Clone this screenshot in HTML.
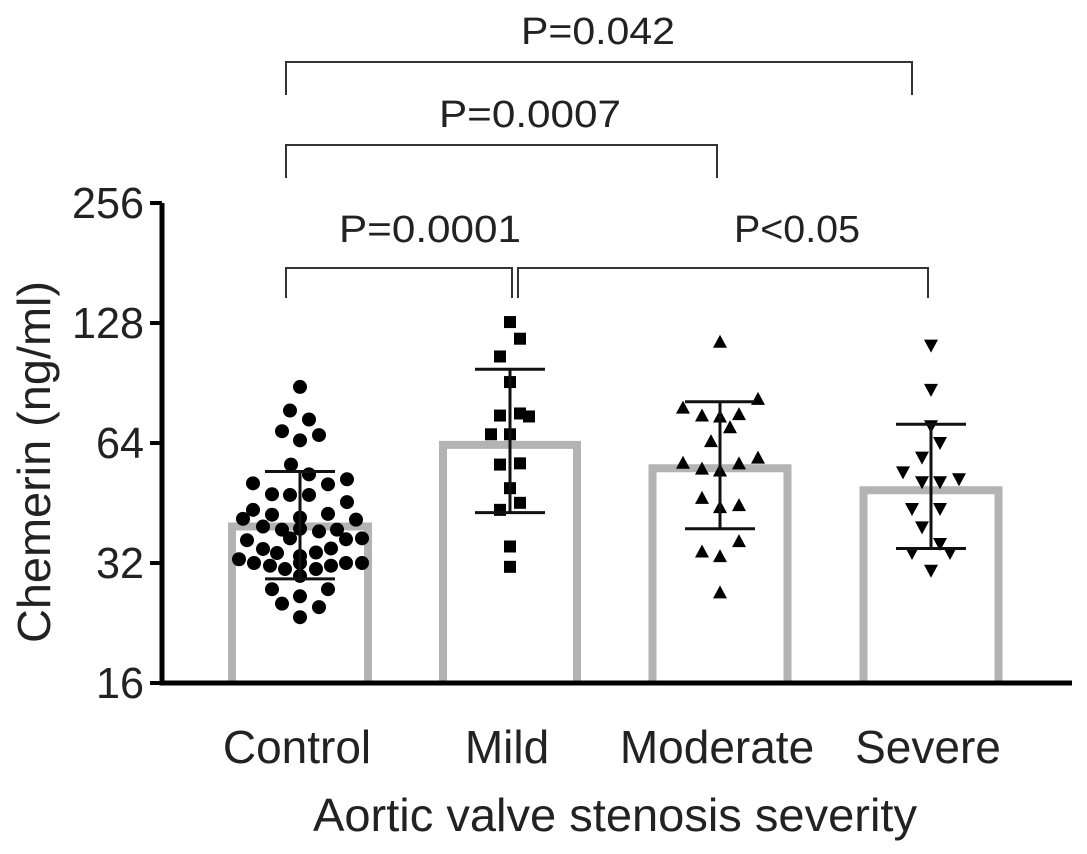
<!DOCTYPE html>
<html><head><meta charset="utf-8"><style>
html,body{margin:0;padding:0;background:#fff;}
svg text{font-family:"Liberation Sans",sans-serif;fill:#222;}
</style></head><body>
<svg id="chart" width="1087" height="849" viewBox="0 0 1087 849" xmlns="http://www.w3.org/2000/svg"></svg>
<script>
const categories=["Control","Mild","Moderate","Severe"];
const means=[39.5,63.3,55.3,48.7];
const errTop=[54.3,98,81.2,71.3];
const errBottom=[29.2,42.8,39.0,34.8];
const controlValues=[88.5,77.2,73.3,68.5,67,65,56.5,53.4,50.7,50.4,51.9,47.6,47.4,47.4,45.5,43.5,41.3,42.3,41.6,42.5,41.1,39.5,38.8,39.0,38.4,38.8,36.5,36.9,36.7,36.9,34.7,33.9,33.3,34.0,34.8,32.7,32,31.5,30.9,32,30.9,31.5,32,32,29.7,27.5,27.5,26.4,25.3,24.8,23.4];
const controlJitter=[0,-10,9,-18,19,0,-9,9,-47,28,47,-28,-10,9,47,-47,-57,-28,0,28,56,-37,-18,0,19,37,-53,-10,46,62,-37,-23,0,16,31,-61,-46,-30,-15,0,16,31,46,62,0,-28,28,0,-18,19,0];
const mildValues=[128.7,116.9,105.5,91,75,75.9,74.6,67.3,67.3,56.5,56.9,49.3,45.3,43.5,35.2,31.3];
const mildJitter=[0,10,-10,0,-10,10,19,-19,0,-10,10,0,10,-10,0,0];
const moderateValues=[114.9,78.5,75,74.6,75.6,82.6,70.1,64.7,57.1,55.2,54.6,56.9,58.8,46.6,44.2,44.7,36.3,34.2,33.3,27];
const moderateJitter=[0,-37,-18,0,19,38,10,-9,-37,-18,0,19,38,-18,0,19,19,-18,0,0];
const severeValues=[112.3,87,70.5,64,58.8,54,51,51,51.9,43.7,43.7,39.3,33.9,35.7,33.9,30.6];
const severeJitter=[0,0,0,9,-9,-28,-9,9,28,-19,9,-9,-19,9,19,0];
const yTicks=[16,32,64,128,256];
const NS="http://www.w3.org/2000/svg";
const svg=document.getElementById('chart');
const X0=162,Y16=683,PX=120;
function yScale(v){return Y16-Math.log2(v/16)*PX;}
const centers=[300,510,720,931];
const barW=[136,134,135,135];
function xScale(i){return centers[i];}
function mk(tag,attrs,parent){const e=document.createElementNS(NS,tag);for(const k in attrs)e.setAttribute(k,attrs[k]);(parent||svg).appendChild(e);return e;}
function txt(s,attrs){const t=mk('text',attrs);t.textContent=s;return t;}

categories.forEach((c,i)=>{
 const top=yScale(means[i]);
 const r=mk('path',{d:`M${xScale(i)-barW[i]/2},${Y16} V${top} H${xScale(i)+barW[i]/2} V${Y16}`,fill:'none',stroke:'#b3b3b3','stroke-width':8});
 
 
});
const groups=[[controlValues,controlJitter,'circle'],[mildValues,mildJitter,'square'],[moderateValues,moderateJitter,'tri'],[severeValues,severeJitter,'tridown']];
groups.forEach((g,i)=>{
 const [vals,jit,shape]=g;
 vals.forEach((v,j)=>{
  const x=xScale(i)+(jit[j]||0),y=yScale(v);let e;
  if(shape==='circle')e=mk('circle',{cx:x,cy:y,r:7,fill:'#000'});
  else if(shape==='square')e=mk('rect',{x:x-6,y:y-6,width:12,height:12,fill:'#000'});
  else if(shape==='tri')e=mk('polygon',{points:`${x},${y-7} ${x-7},${y+6} ${x+7},${y+6}`,fill:'#000'});
  else e=mk('polygon',{points:`${x},${y+7} ${x-7},${y-6} ${x+7},${y-6}`,fill:'#000'});
  
  
 });
});
categories.forEach((c,i)=>{
 const g=mk('g',{stroke:'#111','stroke-width':3});
 
 
 const x=xScale(i),t=yScale(errTop[i]),b=yScale(errBottom[i]);
 mk('line',{x1:x,x2:x,y1:t,y2:b},g);
 mk('line',{x1:x-35,x2:x+35,y1:t,y2:t},g);
 mk('line',{x1:x-35,x2:x+35,y1:b,y2:b},g);
});
const ax=mk('path',{d:`M${X0},${yScale(256)} V${Y16} H1072`,fill:'none',stroke:'#000','stroke-width':5});


yTicks.forEach(v=>{
 const y=yScale(v);
 const l=mk('line',{x1:X0-12,x2:X0,y1:y,y2:y,stroke:'#000','stroke-width':4});
 
 
 const t=txt(String(v),{x:X0-18,y:y+15,'font-size':44,'text-anchor':'end','textLength':String(v).length*24,'lengthAdjust':'spacingAndGlyphs'});
 
 
});
categories.forEach((c,i)=>{
 const t=txt(c,{x:xScale(i)-3,y:763,'font-size':46,'text-anchor':'middle'});
 
 
});
const xt=txt("Aortic valve stenosis severity",{x:615,y:831,'font-size':46,'text-anchor':'middle','textLength':604,'lengthAdjust':'spacingAndGlyphs'});


const yt=txt("Chemerin (ng/ml)",{x:0,y:0,'font-size':46,'text-anchor':'middle','textLength':362,'lengthAdjust':'spacingAndGlyphs',transform:'translate(50,462) rotate(-90)'});


const sig=[["P=0.042",286,912,62,95,598,44,154],["P=0.0007",286,717,145,178,530,127,182],["P=0.0001",286,512,268,298,430,242,182],["P<0.05",518,928,268,298,797,242,126]];
sig.forEach(s=>{
 const p=mk('path',{d:`M${s[1]},${s[4]} V${s[3]} H${s[2]} V${s[4]}`,fill:'none',stroke:'#333','stroke-width':2});
 
 
 const t=txt(s[0],{x:s[5],y:s[6],'font-size':38,'text-anchor':'middle','textLength':s[7],'lengthAdjust':'spacingAndGlyphs'});
 
 
});
</script>
</body></html>
